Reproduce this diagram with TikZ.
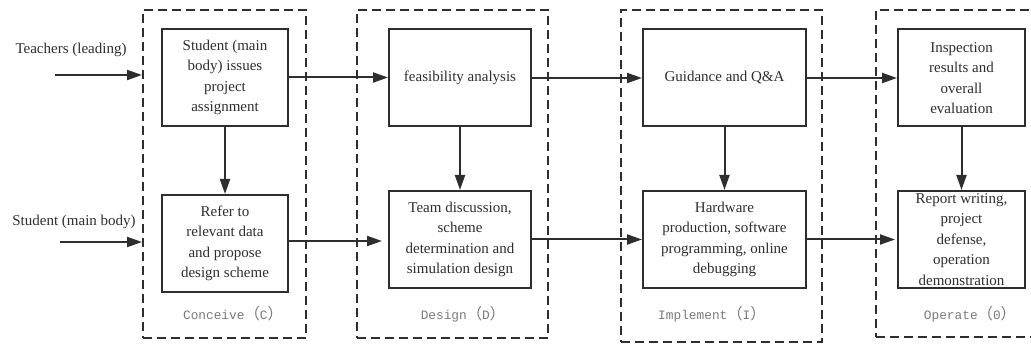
\documentclass[tikz,border=0pt]{standalone}
\usepackage{fontspec}
\setmainfont{Liberation Serif}
\newfontfamily\monof{Liberation Mono}
\newfontfamily\cjk[Scale=1.2]{Noto Sans CJK SC}
\usetikzlibrary{arrows.meta}
\definecolor{ink}{HTML}{2E2E2E}
\definecolor{lbl}{HTML}{7A7A7A}
\newcommand{\fwp}[1]{{\cjk （}#1{\cjk ）}}
\tikzset{
  box/.style={draw=ink, line width=2pt, minimum width=#1, minimum height=97pt, inner sep=0pt,
    align=center, text=ink, font=\fontsize{15}{20.5}\selectfont},
  dbox/.style={draw=ink, line width=2pt, dash pattern=on 9pt off 5pt, inner sep=0pt},
  arr/.style={draw=ink, line width=2pt, -{Triangle[length=15pt,width=10pt]}},
  side/.style={text=ink, font=\fontsize{15}{18}\selectfont, inner sep=0pt},
  phase/.style={text=lbl, font=\monof\fontsize{12.8}{15}\selectfont, inner sep=0pt},
}
\begin{document}
\begin{tikzpicture}[x=1pt,y=-1pt]
\useasboundingbox (0,0) rectangle (1031,344);
\clip (0,0) rectangle (1031,344);
\fill[white] (0,0) rectangle (1031,344);
% dashed phase frames
\node[dbox, minimum width=163pt, minimum height=328pt] (C) at (224.5,174) {};
\node[dbox, minimum width=191pt, minimum height=328pt] (D) at (452.5,174) {};
\node[dbox, minimum width=201pt, minimum height=332pt] (I) at (721.5,176) {};
\node[dbox, minimum width=200pt, minimum height=327pt] (O) at (976,173.5) {};
% boxes
\node[box=126pt] (C1) at (225,77.5) {Student (main\\body) issues\\project\\assignment};
\node[box=126pt] (C2) at (225,243.5) {Refer to\\relevant data\\and propose\\design scheme};
\node[box=142pt] (D1) at (460,78) {feasibility analysis};
\node[box=142pt] (D2) at (460,239.5) {Team discussion,\\scheme\\determination and\\simulation design};
\node[box=163pt] (I1) at (724.5,78) {Guidance and Q\&A};
\node[box=163pt] (I2) at (724.5,239.5) {Hardware\\production, software\\programming, online\\debugging};
\node[box=127pt] (O1) at (961.5,78) {Inspection\\results and\\overall\\evaluation};
\node[box=127pt] (O2) at (961.5,239.5) {Report writing,\\project\\defense,\\operation\\demonstration};
% side labels
\node[side] (tl) at (71,50) {Teachers (leading)};
\node[side] (sl) at (74,222) {Student (main body)};
\coordinate (t0) at (55,75);
\coordinate (s0) at (60,242);
\coordinate (cd) at (0,241);
\draw[arr] (t0) -- (t0 -| C.west);
\draw[arr] (s0) -- (s0 -| C.west);
% phase labels
\node[phase] (lc) at (233,314) {Conceive\fwp{C}};
\node[phase] (ld) at (463,314) {Design\fwp{D}};
\node[phase] (li) at (712,314) {Implement\fwp{I}};
\node[phase] (lo) at (970,314) {Operate\fwp{0}};
% horizontal arrows
\draw[arr] (C1.east) -- (C1.east -| D1.west);
\draw[arr, shorten >=6pt] (C2.east |- cd) -- (D2.west |- cd);
\draw[arr] (D1.east) -- (D1.east -| I1.west);
\draw[arr] (D2.east) -- (D2.east -| I2.west);
\draw[arr] (I1.east) -- (I1.east -| O1.west);
\draw[arr, shorten >=2pt] (I2.east) -- (I2.east -| O2.west);
% vertical arrows
\draw[arr] (C1.south) -- (C2.north);
\draw[arr] (D1.south) -- (D2.north);
\draw[arr] (I1.south) -- (I2.north);
\draw[arr] (O1.south) -- (O2.north);
\end{tikzpicture}
\end{document}
